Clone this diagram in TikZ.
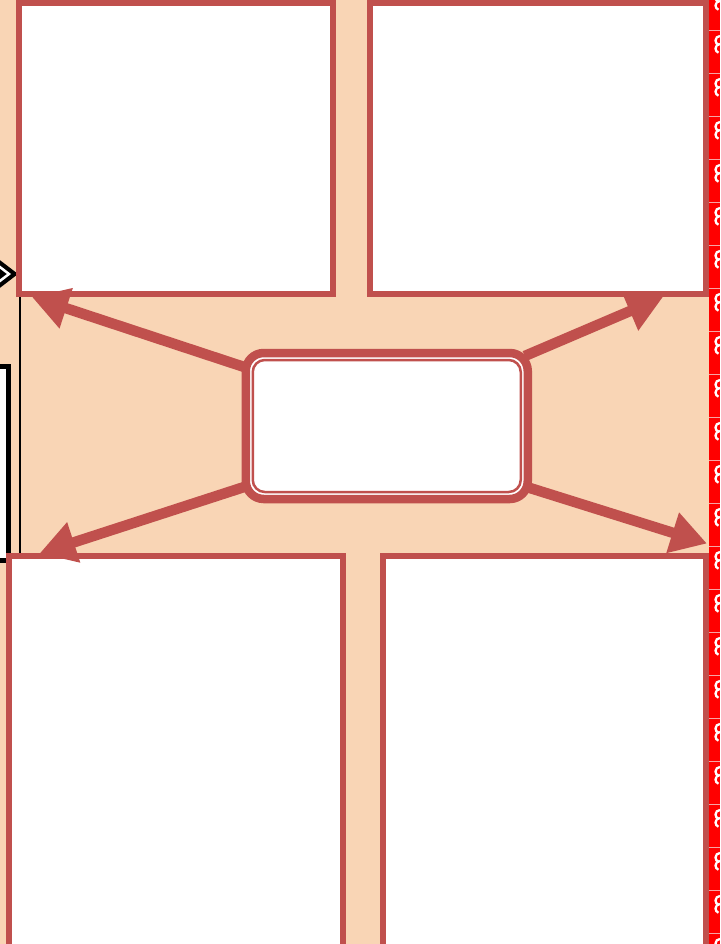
\documentclass[tikz,border=0pt]{standalone}
\usetikzlibrary{arrows.meta}
\definecolor{peach}{HTML}{F9D5B5}
\definecolor{brick}{HTML}{C0504D}
\definecolor{stripred}{HTML}{FF0000}
\definecolor{seppink}{HTML}{F6A5A5}

\begin{document}
\begin{tikzpicture}[x=1pt, y=-1pt,
  panel/.style={draw=brick, line width=6pt, fill=white, inner sep=0pt, outer sep=0pt},
  hub/.style={draw=brick, line width=8.5pt, fill=white, rounded corners=18pt, inner sep=0pt, outer sep=0pt,
    minimum width=282pt, minimum height=146pt},
  spoke/.style={brick, line width=10.5pt, -{Triangle[length=36pt, width=40pt]}},
  swirl/.style={white, line width=2.3pt}]
  \useasboundingbox (0,0) rectangle (720,944);
  \fill[peach] (0,0) rectangle (709,944);
  \fill[stripred] (709,0) rectangle (720,944);
  \foreach \k in {0,...,22} {
    \draw[seppink, line width=0.8pt] (709,30+43*\k) -- (720,30+43*\k);
    \draw[swirl] (720,{1+43*\k-8}) arc[start angle=270, end angle=110, radius=4.5];
    \draw[swirl] (720,{1+43*\k}) arc[start angle=270, end angle=110, radius=4.5];
  }
  % left margin bits
  \coordinate (lineTop) at (20,297);
  \coordinate (lineBot) at (20,556);
  \draw[black, line width=2.5pt] (lineTop) -- (lineBot);
  \draw[black, line width=5pt, fill=white] (-10,366) rectangle (8,560);
  \draw[black, line width=11pt, miter limit=10] (-8,261) -- (9,274) -- (-8,287);
  \draw[white, line width=2.5pt, miter limit=10] (-8,261) -- (9,274) -- (-8,287);
  % panels
  \node[panel, minimum width=314pt, minimum height=291pt] (tl) at (176,148.5) {};
  \node[panel, minimum width=336pt, minimum height=291pt] (tr) at (538,148.5) {};
  \node[panel, minimum width=334.5pt, minimum height=400pt] (bl) at (175.75,755.5) {};
  \node[panel, minimum width=323pt, minimum height=400pt] (br) at (544.5,755.5) {};
  \node[hub] (hub) at (386.75,426) {};
  \draw[spoke] ([shift={(1.5,15)}]hub.north west) -- ([shift={(13,3)}]tl.south west);
  \draw[spoke] ([shift={(-3,3)}]hub.north east) -- ([shift={(-43,3)}]tr.south east);
  \draw[spoke] ([shift={(1.5,-13)}]hub.south west) -- ([shift={(31,-2)}]bl.north west);
  \draw[spoke] ([shift={(-1,-12)}]hub.south east) -- ([shift={(1,-12)}]br.north east);
  \draw[brick, line width=2.5pt, rounded corners=12pt]
    ([shift={(7,7)}]hub.north west) rectangle ([shift={(-7,-7)}]hub.south east);
\end{tikzpicture}
\end{document}
